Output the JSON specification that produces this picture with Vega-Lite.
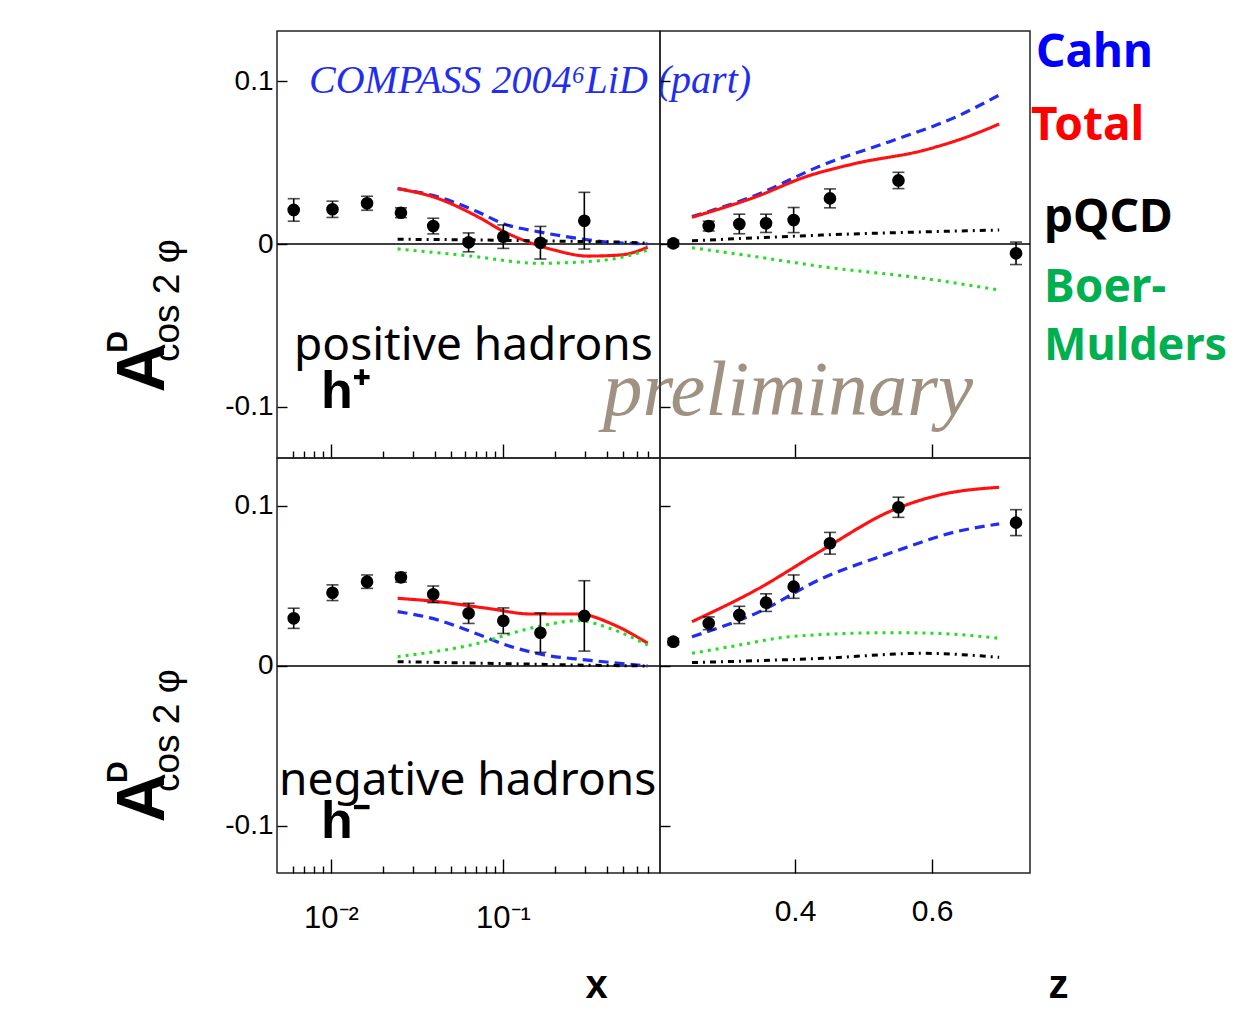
{
"$schema": "https://vega.github.io/schema/vega-lite/v6.json",
"autosize": {"type": "pad"},
"padding": {"left": 102, "top": 29, "right": 0, "bottom": 0},
"background": "white",
"spacing": 0,
"bounds": "flush",
"columns": 2,
"config": {
  "view": {"stroke": "#222", "strokeWidth": 1.5},
  "axis": {"grid": false, "domain": false, "tickColor": "black", "tickWidth": 1.4, "labelColor": "black", "labelFont": "Liberation Sans", "labelFontSize": 28, "titleColor": "black"}
},
"datasets": {
  "notes": [
    {"key":"compass","note":"COMPASS 2004⁶LiD (part)"},
    {"key":"pos","note":"positive hadrons"},
    {"key":"hp","note":"h⁺"},
    {"key":"prelim","note":"preliminary"},
    {"key":"A","note":"A"},
    {"key":"D","note":"D"},
    {"key":"cos","note":"cos 2 φ"},
    {"key":"neg","note":"negative hadrons"},
    {"key":"hm","note":"h⁻"},
    {"key":"Cahn","note":"Cahn"},
    {"key":"Total","note":"Total"},
    {"key":"pQCD","note":"pQCD"},
    {"key":"Boer","note":"Boer-"},
    {"key":"Mulders","note":"Mulders"}
  ],
  "pts": [
    {"panel":"TL","v":0.00607,"A":0.0209,"err":0.0069},
    {"panel":"TL","v":0.0102,"A":0.0213,"err":0.005},
    {"panel":"TL","v":0.0162,"A":0.025,"err":0.0043},
    {"panel":"TL","v":0.0255,"A":0.0192,"err":0.003},
    {"panel":"TL","v":0.0393,"A":0.011,"err":0.0048},
    {"panel":"TL","v":0.0631,"A":0.001,"err":0.0058},
    {"panel":"TL","v":0.1004,"A":0.0045,"err":0.0072},
    {"panel":"TL","v":0.165,"A":0.0008,"err":0.01},
    {"panel":"TL","v":0.297,"A":0.0143,"err":0.0174},
    {"panel":"TR","v":0.2223,"A":0.0004,"err":0.002},
    {"panel":"TR","v":0.274,"A":0.011,"err":0.003},
    {"panel":"TR","v":0.3187,"A":0.0123,"err":0.006},
    {"panel":"TR","v":0.3577,"A":0.0127,"err":0.0056},
    {"panel":"TR","v":0.398,"A":0.0147,"err":0.0077},
    {"panel":"TR","v":0.451,"A":0.028,"err":0.0058},
    {"panel":"TR","v":0.551,"A":0.039,"err":0.005},
    {"panel":"TR","v":0.7226,"A":-0.0057,"err":0.0069},
    {"panel":"BL","v":0.00607,"A":0.0298,"err":0.0063},
    {"panel":"BL","v":0.0102,"A":0.0458,"err":0.0049},
    {"panel":"BL","v":0.0162,"A":0.0527,"err":0.0042},
    {"panel":"BL","v":0.0255,"A":0.0554,"err":0.003},
    {"panel":"BL","v":0.0393,"A":0.0448,"err":0.0052},
    {"panel":"BL","v":0.0631,"A":0.0329,"err":0.0063},
    {"panel":"BL","v":0.1004,"A":0.0283,"err":0.008},
    {"panel":"BL","v":0.165,"A":0.0208,"err":0.0123},
    {"panel":"BL","v":0.297,"A":0.0313,"err":0.022},
    {"panel":"BR","v":0.2223,"A":0.0152,"err":0.002},
    {"panel":"BR","v":0.274,"A":0.0267,"err":0.004},
    {"panel":"BR","v":0.3187,"A":0.0319,"err":0.0054},
    {"panel":"BR","v":0.3577,"A":0.0396,"err":0.0055},
    {"panel":"BR","v":0.398,"A":0.0496,"err":0.0073},
    {"panel":"BR","v":0.451,"A":0.0767,"err":0.0068},
    {"panel":"BR","v":0.551,"A":0.0992,"err":0.0063},
    {"panel":"BR","v":0.7226,"A":0.0896,"err":0.0081}
  ],
  "curves": [
    {"panel":"TL","model":"Cahn","v":0.0244,"A":0.034},
    {"panel":"TL","model":"Cahn","v":0.0417,"A":0.029},
    {"panel":"TL","model":"Cahn","v":0.0711,"A":0.0198},
    {"panel":"TL","model":"Cahn","v":0.1014,"A":0.0123},
    {"panel":"TL","model":"Cahn","v":0.159,"A":0.0076},
    {"panel":"TL","model":"Cahn","v":0.248,"A":0.0041},
    {"panel":"TL","model":"Cahn","v":0.388,"A":0.0014},
    {"panel":"TL","model":"Cahn","v":0.694,"A":0.0},
    {"panel":"TL","model":"Total","v":0.0244,"A":0.034},
    {"panel":"TL","model":"Total","v":0.0417,"A":0.028},
    {"panel":"TL","model":"Total","v":0.0711,"A":0.0168},
    {"panel":"TL","model":"Total","v":0.1014,"A":0.0076},
    {"panel":"TL","model":"Total","v":0.139,"A":0.0014},
    {"panel":"TL","model":"Total","v":0.199,"A":-0.0037},
    {"panel":"TL","model":"Total","v":0.311,"A":-0.0074},
    {"panel":"TL","model":"Total","v":0.485,"A":-0.0067},
    {"panel":"TL","model":"Total","v":0.694,"A":-0.002},
    {"panel":"TL","model":"BM","v":0.0244,"A":-0.003},
    {"panel":"TL","model":"BM","v":0.0651,"A":-0.0074},
    {"panel":"TL","model":"BM","v":0.159,"A":-0.0118},
    {"panel":"TL","model":"BM","v":0.311,"A":-0.0108},
    {"panel":"TL","model":"BM","v":0.485,"A":-0.0082},
    {"panel":"TL","model":"BM","v":0.694,"A":-0.0037},
    {"panel":"TL","model":"pQCD","v":0.0244,"A":0.0029},
    {"panel":"TL","model":"pQCD","v":0.06,"A":0.0026},
    {"panel":"TL","model":"pQCD","v":0.15,"A":0.002},
    {"panel":"TL","model":"pQCD","v":0.3,"A":0.0015},
    {"panel":"TL","model":"pQCD","v":0.555,"A":0.001},
    {"panel":"TL","model":"pQCD","v":0.694,"A":0.0005},
    {"panel":"TR","model":"Cahn","v":0.2496,"A":0.0168},
    {"panel":"TR","model":"Cahn","v":0.343,"A":0.03},
    {"panel":"TR","model":"Cahn","v":0.44,"A":0.0485},
    {"panel":"TR","model":"Cahn","v":0.538,"A":0.0628},
    {"panel":"TR","model":"Cahn","v":0.635,"A":0.078},
    {"panel":"TR","model":"Cahn","v":0.698,"A":0.0914},
    {"panel":"TR","model":"Total","v":0.2496,"A":0.0164},
    {"panel":"TR","model":"Total","v":0.343,"A":0.029},
    {"panel":"TR","model":"Total","v":0.416,"A":0.0413},
    {"panel":"TR","model":"Total","v":0.489,"A":0.0495},
    {"panel":"TR","model":"Total","v":0.586,"A":0.0573},
    {"panel":"TR","model":"Total","v":0.645,"A":0.0648},
    {"panel":"TR","model":"Total","v":0.698,"A":0.0736},
    {"panel":"TR","model":"BM","v":0.2496,"A":-0.0023},
    {"panel":"TR","model":"BM","v":0.343,"A":-0.0078},
    {"panel":"TR","model":"BM","v":0.44,"A":-0.0139},
    {"panel":"TR","model":"BM","v":0.586,"A":-0.021},
    {"panel":"TR","model":"BM","v":0.698,"A":-0.0282},
    {"panel":"TR","model":"pQCD","v":0.2496,"A":0.002},
    {"panel":"TR","model":"pQCD","v":0.44,"A":0.0055},
    {"panel":"TR","model":"pQCD","v":0.698,"A":0.0086},
    {"panel":"BL","model":"Total","v":0.0244,"A":0.0423},
    {"panel":"BL","model":"Total","v":0.0417,"A":0.0402},
    {"panel":"BL","model":"Total","v":0.0815,"A":0.036},
    {"panel":"BL","model":"Total","v":0.1455,"A":0.0325},
    {"panel":"BL","model":"Total","v":0.272,"A":0.0325},
    {"panel":"BL","model":"Total","v":0.444,"A":0.0256},
    {"panel":"BL","model":"Total","v":0.694,"A":0.0142},
    {"panel":"BL","model":"Cahn","v":0.0244,"A":0.034},
    {"panel":"BL","model":"Cahn","v":0.0417,"A":0.0288},
    {"panel":"BL","model":"Cahn","v":0.0651,"A":0.0215},
    {"panel":"BL","model":"Cahn","v":0.1113,"A":0.0121},
    {"panel":"BL","model":"Cahn","v":0.174,"A":0.0069},
    {"panel":"BL","model":"Cahn","v":0.311,"A":0.0037},
    {"panel":"BL","model":"Cahn","v":0.694,"A":0.0},
    {"panel":"BL","model":"BM","v":0.0244,"A":0.0058},
    {"panel":"BL","model":"BM","v":0.0651,"A":0.0131},
    {"panel":"BL","model":"BM","v":0.159,"A":0.0246},
    {"panel":"BL","model":"BM","v":0.272,"A":0.0283},
    {"panel":"BL","model":"BM","v":0.444,"A":0.0225},
    {"panel":"BL","model":"BM","v":0.694,"A":0.0131},
    {"panel":"BL","model":"pQCD","v":0.0244,"A":0.0027},
    {"panel":"BL","model":"pQCD","v":0.1,"A":0.0015},
    {"panel":"BL","model":"pQCD","v":0.3,"A":0.0005},
    {"panel":"BL","model":"pQCD","v":0.694,"A":0.0},
    {"panel":"BR","model":"Total","v":0.2496,"A":0.0277},
    {"panel":"BR","model":"Total","v":0.343,"A":0.0475},
    {"panel":"BR","model":"Total","v":0.44,"A":0.0725},
    {"panel":"BR","model":"Total","v":0.538,"A":0.0965},
    {"panel":"BR","model":"Total","v":0.611,"A":0.1069},
    {"panel":"BR","model":"Total","v":0.698,"A":0.1117},
    {"panel":"BR","model":"Cahn","v":0.2496,"A":0.0183},
    {"panel":"BR","model":"Cahn","v":0.343,"A":0.0329},
    {"panel":"BR","model":"Cahn","v":0.44,"A":0.0548},
    {"panel":"BR","model":"Cahn","v":0.538,"A":0.0704},
    {"panel":"BR","model":"Cahn","v":0.635,"A":0.0839},
    {"panel":"BR","model":"Cahn","v":0.698,"A":0.0888},
    {"panel":"BR","model":"BM","v":0.2496,"A":0.0079},
    {"panel":"BR","model":"BM","v":0.319,"A":0.0131},
    {"panel":"BR","model":"BM","v":0.3917,"A":0.0183},
    {"panel":"BR","model":"BM","v":0.538,"A":0.0208},
    {"panel":"BR","model":"BM","v":0.6,"A":0.0205},
    {"panel":"BR","model":"BM","v":0.698,"A":0.0173},
    {"panel":"BR","model":"pQCD","v":0.2496,"A":0.0021},
    {"panel":"BR","model":"pQCD","v":0.44,"A":0.0048},
    {"panel":"BR","model":"pQCD","v":0.586,"A":0.0079},
    {"panel":"BR","model":"pQCD","v":0.698,"A":0.0054}
  ]
},
"resolve": {"scale": {"x": "independent", "y": "independent"}},
"concat": [
  {"width": 383, "height": 427,
   "layer": [
     {"data": {"name": "notes"}, "transform": [{"filter": "datum.key == 'A'"}],
      "mark": {"type": "rule", "color": "black", "strokeWidth": 1.6},
      "encoding": {"y": {"datum": 0, "type": "quantitative", "scale": {"domain": [-0.1313, 0.1307], "nice": false, "zero": false},
           "axis": {"title": null, "values": [-0.1, 0, 0.1], "tickSize": -10, "labelPadding": 14, "labelExpr": "datum.value == 0 ? '0' : (datum.value > 0 ? '0.1' : '-0.1')"}}}},
     {"data": {"name": "curves"}, "transform": [{"filter": "datum.panel == 'TL'"}],
      "mark": {"type": "line", "interpolate": "monotone"},
      "encoding": {
        "x": {"field": "v", "type": "quantitative", "scale": {"type": "log", "domain": [0.004853, 0.818], "nice": false},
              "axis": {"title": null, "values": [0.006,0.007,0.008,0.009,0.01,0.02,0.03,0.04,0.05,0.06,0.07,0.08,0.09,0.1,0.2,0.3,0.4,0.5,0.6,0.7], "labels": false,
                       "tickSize": {"condition": {"test": "datum.value == 0.01 || datum.value == 0.1", "value": -14}, "value": -7}}},
        "y": {"field": "A", "type": "quantitative", "scale": {"domain": [-0.1313, 0.1307], "nice": false, "zero": false},
              "axis": {"title": null, "values": [-0.1, 0, 0.1], "tickSize": -10, "labelPadding": 14, "labelExpr": "datum.value == 0 ? '0' : (datum.value > 0 ? '0.1' : '-0.1')"}},
        "color": {"field": "model", "type": "nominal", "scale": {"domain": ["Cahn","Total","BM","pQCD"], "range": ["#1f2ef0","#ff1111","#22dd22","#000000"]}, "legend": null},
        "strokeDash": {"field": "model", "type": "nominal", "scale": {"domain": ["Cahn","Total","BM","pQCD"], "range": [[10,6],[1,0],[3,5],[6,5,2,5]]}, "legend": null},
        "size": {"field": "model", "type": "nominal", "scale": {"domain": ["Cahn","Total","BM","pQCD"], "range": [3.2,3,3,4.5]}, "legend": null}
      }},
     {"data": {"name": "pts"}, "transform": [{"filter": "datum.panel == 'TL'"}],
      "mark": {"type": "errorbar", "ticks": {"size": 12, "thickness": 1.6, "color": "black"}, "rule": {"strokeWidth": 1.6, "color": "black"}},
      "encoding": {
        "x": {"field": "v", "type": "quantitative", "title": null},
        "y": {"field": "A", "type": "quantitative", "title": null},
        "yError": {"field": "err"}}},
     {"data": {"name": "pts"}, "transform": [{"filter": "datum.panel == 'TL'"}],
      "mark": {"type": "circle", "size": 160, "color": "black", "opacity": 1},
      "encoding": {
        "x": {"field": "v", "type": "quantitative", "title": null},
        "y": {"field": "A", "type": "quantitative", "title": null}}},
     {"data": {"name": "notes"}, "transform": [{"filter": "datum.key == 'compass'"}],
      "mark": {"type": "text", "font": "Liberation Serif", "fontStyle": "italic", "fontSize": 40, "color": "#1f2ef0", "align": "left", "baseline": "alphabetic"},
      "encoding": {"text": {"field": "note"}, "x": {"datum": 0.00745, "type": "quantitative"}, "y": {"datum": 0.0926, "type": "quantitative"}}},
     {"data": {"name": "notes"}, "transform": [{"filter": "datum.key == 'pos'"}],
      "mark": {"type": "text", "font": "Noto Sans", "fontSize": 46, "color": "black", "align": "left", "baseline": "alphabetic"},
      "encoding": {"text": {"field": "note"}, "x": {"datum": 0.0061, "type": "quantitative"}, "y": {"datum": -0.0712, "type": "quantitative"}}},
     {"data": {"name": "notes"}, "transform": [{"filter": "datum.key == 'hp'"}],
      "mark": {"type": "text", "font": "Liberation Sans", "fontWeight": "bold", "fontSize": 52, "color": "black", "align": "left", "baseline": "alphabetic"},
      "encoding": {"text": {"field": "note"}, "x": {"datum": 0.00875, "type": "quantitative"}, "y": {"datum": -0.1006, "type": "quantitative"}}},
     {"data": {"name": "notes"}, "transform": [{"filter": "datum.key == 'prelim'"}],
      "mark": {"type": "text", "font": "Liberation Serif", "fontStyle": "italic", "fontSize": 79, "color": "#a09282", "align": "left", "baseline": "alphabetic"},
      "encoding": {"text": {"field": "note"}, "x": {"datum": 0.381, "type": "quantitative"}, "y": {"datum": -0.1049, "type": "quantitative"}}},
     {"data": {"name": "notes"}, "transform": [{"filter": "datum.key == 'A'"}],
      "mark": {"type": "text", "font": "Liberation Sans", "fontWeight": "bold", "fontSize": 68, "color": "black", "angle": 270, "align": "center", "baseline": "middle"},
      "encoding": {"text": {"field": "note"}, "x": {"datum": 0.000818, "type": "quantitative"}, "y": {"datum": -0.0761, "type": "quantitative"}}},
     {"data": {"name": "notes"}, "transform": [{"filter": "datum.key == 'D'"}],
      "mark": {"type": "text", "font": "Liberation Sans", "fontWeight": "bold", "fontSize": 30, "color": "black", "angle": 270, "align": "center", "baseline": "middle"},
      "encoding": {"text": {"field": "note"}, "x": {"datum": 0.000578, "type": "quantitative"}, "y": {"datum": -0.0601, "type": "quantitative"}}},
     {"data": {"name": "notes"}, "transform": [{"filter": "datum.key == 'cos'"}],
      "mark": {"type": "text", "font": "Liberation Sans", "fontSize": 37, "color": "black", "angle": 270, "align": "left", "baseline": "middle"},
      "encoding": {"text": {"field": "note"}, "x": {"datum": 0.001127, "type": "quantitative"}, "y": {"datum": -0.0724, "type": "quantitative"}}}
   ]},
  {"width": 370, "height": 427,
   "layer": [
     {"data": {"name": "notes"}, "transform": [{"filter": "datum.key == 'A'"}],
      "mark": {"type": "rule", "color": "black", "strokeWidth": 1.6},
      "encoding": {"y": {"datum": 0, "type": "quantitative", "scale": {"domain": [-0.1313, 0.1307], "nice": false, "zero": false},
           "axis": {"title": null, "values": [-0.1, 0, 0.1], "tickSize": -10, "labels": false}}}},
     {"data": {"name": "curves"}, "transform": [{"filter": "datum.panel == 'TR'"}],
      "mark": {"type": "line", "interpolate": "monotone"},
      "encoding": {
        "x": {"field": "v", "type": "quantitative", "scale": {"domain": [0.2029, 0.743], "nice": false, "zero": false},
              "axis": {"title": null, "values": [0.4, 0.6], "labels": false, "tickSize": -14}},
        "y": {"field": "A", "type": "quantitative", "scale": {"domain": [-0.1313, 0.1307], "nice": false, "zero": false},
              "axis": {"title": null, "values": [-0.1, 0, 0.1], "tickSize": -10, "labels": false}},
        "color": {"field": "model", "type": "nominal", "scale": {"domain": ["Cahn","Total","BM","pQCD"], "range": ["#1f2ef0","#ff1111","#22dd22","#000000"]}, "legend": null},
        "strokeDash": {"field": "model", "type": "nominal", "scale": {"domain": ["Cahn","Total","BM","pQCD"], "range": [[10,6],[1,0],[3,5],[6,5,2,5]]}, "legend": null},
        "size": {"field": "model", "type": "nominal", "scale": {"domain": ["Cahn","Total","BM","pQCD"], "range": [3.2,3,3,4.5]}, "legend": null}
      }},
     {"data": {"name": "pts"}, "transform": [{"filter": "datum.panel == 'TR'"}],
      "mark": {"type": "errorbar", "ticks": {"size": 12, "thickness": 1.6, "color": "black"}, "rule": {"strokeWidth": 1.6, "color": "black"}},
      "encoding": {
        "x": {"field": "v", "type": "quantitative", "title": null},
        "y": {"field": "A", "type": "quantitative", "title": null},
        "yError": {"field": "err"}}},
     {"data": {"name": "pts"}, "transform": [{"filter": "datum.panel == 'TR'"}],
      "mark": {"type": "circle", "size": 160, "color": "black", "opacity": 1},
      "encoding": {
        "x": {"field": "v", "type": "quantitative", "title": null},
        "y": {"field": "A", "type": "quantitative", "title": null}}},
     {"data": {"name": "notes"}, "transform": [{"filter": "datum.key == 'Cahn'"}],
      "mark": {"type": "text", "font": "Noto Sans", "fontWeight": "bold", "fontSize": 46, "color": "#0000ff", "align": "left", "baseline": "alphabetic"},
      "encoding": {"text": {"field": "note"}, "x": {"datum": 0.7518, "type": "quantitative"}, "y": {"datum": 0.1086, "type": "quantitative"}}},
     {"data": {"name": "notes"}, "transform": [{"filter": "datum.key == 'Total'"}],
      "mark": {"type": "text", "font": "Noto Sans", "fontWeight": "bold", "fontSize": 46, "color": "#ff0000", "align": "left", "baseline": "alphabetic"},
      "encoding": {"text": {"field": "note"}, "x": {"datum": 0.7445, "type": "quantitative"}, "y": {"datum": 0.0638, "type": "quantitative"}}},
     {"data": {"name": "notes"}, "transform": [{"filter": "datum.key == 'pQCD'"}],
      "mark": {"type": "text", "font": "Noto Sans", "fontWeight": "bold", "fontSize": 46, "color": "#000000", "align": "left", "baseline": "alphabetic"},
      "encoding": {"text": {"field": "note"}, "x": {"datum": 0.7635, "type": "quantitative"}, "y": {"datum": 0.0074, "type": "quantitative"}}},
     {"data": {"name": "notes"}, "transform": [{"filter": "datum.key == 'Boer'"}],
      "mark": {"type": "text", "font": "Noto Sans", "fontWeight": "bold", "fontSize": 46, "color": "#00b050", "align": "left", "baseline": "alphabetic"},
      "encoding": {"text": {"field": "note"}, "x": {"datum": 0.7635, "type": "quantitative"}, "y": {"datum": -0.0356, "type": "quantitative"}}},
     {"data": {"name": "notes"}, "transform": [{"filter": "datum.key == 'Mulders'"}],
      "mark": {"type": "text", "font": "Noto Sans", "fontWeight": "bold", "fontSize": 45, "color": "#00b050", "align": "left", "baseline": "alphabetic"},
      "encoding": {"text": {"field": "note"}, "x": {"datum": 0.7635, "type": "quantitative"}, "y": {"datum": -0.0712, "type": "quantitative"}}}
   ]},
  {"width": 383, "height": 415,
   "layer": [
     {"data": {"name": "notes"}, "transform": [{"filter": "datum.key == 'A'"}],
      "mark": {"type": "rule", "color": "black", "strokeWidth": 1.6},
      "encoding": {"y": {"datum": 0, "type": "quantitative", "scale": {"domain": [-0.1294, 0.13], "nice": false, "zero": false},
           "axis": {"title": null, "values": [-0.1, 0, 0.1], "tickSize": -10, "labelPadding": 14, "labelExpr": "datum.value == 0 ? '0' : (datum.value > 0 ? '0.1' : '-0.1')"}}}},
     {"data": {"name": "curves"}, "transform": [{"filter": "datum.panel == 'BL'"}],
      "mark": {"type": "line", "interpolate": "monotone"},
      "encoding": {
        "x": {"field": "v", "type": "quantitative", "scale": {"type": "log", "domain": [0.004853, 0.818], "nice": false},
              "axis": {"title": "x", "titleFont": "Liberation Sans", "titleFontWeight": "bold", "titleFontSize": 40, "titleX": 319, "titleY": 112, "titleBaseline": "middle", "titleAlign": "center",
                       "values": [0.006,0.007,0.008,0.009,0.01,0.02,0.03,0.04,0.05,0.06,0.07,0.08,0.09,0.1,0.2,0.3,0.4,0.5,0.6,0.7], "labelPadding": 44, "labelFontSize": 31,
                       "labelExpr": "datum.value == 0.01 ? '10⁻²' : (datum.value == 0.1 ? '10⁻¹' : '')",
                       "tickSize": {"condition": {"test": "datum.value == 0.01 || datum.value == 0.1", "value": -14}, "value": -7}}},
        "y": {"field": "A", "type": "quantitative", "scale": {"domain": [-0.1294, 0.13], "nice": false, "zero": false},
              "axis": {"title": null, "values": [-0.1, 0, 0.1], "tickSize": -10, "labelPadding": 14, "labelExpr": "datum.value == 0 ? '0' : (datum.value > 0 ? '0.1' : '-0.1')"}},
        "color": {"field": "model", "type": "nominal", "scale": {"domain": ["Cahn","Total","BM","pQCD"], "range": ["#1f2ef0","#ff1111","#22dd22","#000000"]}, "legend": null},
        "strokeDash": {"field": "model", "type": "nominal", "scale": {"domain": ["Cahn","Total","BM","pQCD"], "range": [[10,6],[1,0],[3,5],[6,5,2,5]]}, "legend": null},
        "size": {"field": "model", "type": "nominal", "scale": {"domain": ["Cahn","Total","BM","pQCD"], "range": [3.2,3,3,4.5]}, "legend": null}
      }},
     {"data": {"name": "pts"}, "transform": [{"filter": "datum.panel == 'BL'"}],
      "mark": {"type": "errorbar", "ticks": {"size": 12, "thickness": 1.6, "color": "black"}, "rule": {"strokeWidth": 1.6, "color": "black"}},
      "encoding": {
        "x": {"field": "v", "type": "quantitative", "title": "x"},
        "y": {"field": "A", "type": "quantitative", "title": null},
        "yError": {"field": "err"}}},
     {"data": {"name": "pts"}, "transform": [{"filter": "datum.panel == 'BL'"}],
      "mark": {"type": "circle", "size": 160, "color": "black", "opacity": 1},
      "encoding": {
        "x": {"field": "v", "type": "quantitative", "title": "x"},
        "y": {"field": "A", "type": "quantitative", "title": null}}},
     {"data": {"name": "notes"}, "transform": [{"filter": "datum.key == 'neg'"}],
      "mark": {"type": "text", "font": "Noto Sans", "fontSize": 46, "color": "black", "align": "left", "baseline": "alphabetic"},
      "encoding": {"text": {"field": "note"}, "x": {"datum": 0.00499, "type": "quantitative"}, "y": {"datum": -0.0806, "type": "quantitative"}}},
     {"data": {"name": "notes"}, "transform": [{"filter": "datum.key == 'hm'"}],
      "mark": {"type": "text", "font": "Liberation Sans", "fontWeight": "bold", "fontSize": 52, "color": "black", "align": "left", "baseline": "alphabetic"},
      "encoding": {"text": {"field": "note"}, "x": {"datum": 0.00875, "type": "quantitative"}, "y": {"datum": -0.1075, "type": "quantitative"}}},
     {"data": {"name": "notes"}, "transform": [{"filter": "datum.key == 'A'"}],
      "mark": {"type": "text", "font": "Liberation Sans", "fontWeight": "bold", "fontSize": 68, "color": "black", "angle": 270, "align": "center", "baseline": "middle"},
      "encoding": {"text": {"field": "note"}, "x": {"datum": 0.000818, "type": "quantitative"}, "y": {"datum": -0.0825, "type": "quantitative"}}},
     {"data": {"name": "notes"}, "transform": [{"filter": "datum.key == 'D'"}],
      "mark": {"type": "text", "font": "Liberation Sans", "fontWeight": "bold", "fontSize": 30, "color": "black", "angle": 270, "align": "center", "baseline": "middle"},
      "encoding": {"text": {"field": "note"}, "x": {"datum": 0.000578, "type": "quantitative"}, "y": {"datum": -0.0663, "type": "quantitative"}}},
     {"data": {"name": "notes"}, "transform": [{"filter": "datum.key == 'cos'"}],
      "mark": {"type": "text", "font": "Liberation Sans", "fontSize": 37, "color": "black", "angle": 270, "align": "left", "baseline": "middle"},
      "encoding": {"text": {"field": "note"}, "x": {"datum": 0.001127, "type": "quantitative"}, "y": {"datum": -0.0788, "type": "quantitative"}}}
   ]},
  {"width": 370, "height": 415,
   "layer": [
     {"data": {"name": "notes"}, "transform": [{"filter": "datum.key == 'A'"}],
      "mark": {"type": "rule", "color": "black", "strokeWidth": 1.6},
      "encoding": {"y": {"datum": 0, "type": "quantitative", "scale": {"domain": [-0.1294, 0.13], "nice": false, "zero": false},
           "axis": {"title": null, "values": [-0.1, 0, 0.1], "tickSize": -10, "labels": false}}}},
     {"data": {"name": "curves"}, "transform": [{"filter": "datum.panel == 'BR'"}],
      "mark": {"type": "line", "interpolate": "monotone"},
      "encoding": {
        "x": {"field": "v", "type": "quantitative", "scale": {"domain": [0.2029, 0.743], "nice": false, "zero": false},
              "axis": {"title": "z", "titleFont": "Liberation Sans", "titleFontWeight": "bold", "titleFontSize": 40, "titleX": 398, "titleY": 112, "titleBaseline": "middle", "titleAlign": "center",
                       "values": [0.4, 0.6], "format": ".1f", "labelPadding": 37, "labelFontSize": 30, "tickSize": -14}},
        "y": {"field": "A", "type": "quantitative", "scale": {"domain": [-0.1294, 0.13], "nice": false, "zero": false},
              "axis": {"title": null, "values": [-0.1, 0, 0.1], "tickSize": -10, "labels": false}},
        "color": {"field": "model", "type": "nominal", "scale": {"domain": ["Cahn","Total","BM","pQCD"], "range": ["#1f2ef0","#ff1111","#22dd22","#000000"]}, "legend": null},
        "strokeDash": {"field": "model", "type": "nominal", "scale": {"domain": ["Cahn","Total","BM","pQCD"], "range": [[10,6],[1,0],[3,5],[6,5,2,5]]}, "legend": null},
        "size": {"field": "model", "type": "nominal", "scale": {"domain": ["Cahn","Total","BM","pQCD"], "range": [3.2,3,3,4.5]}, "legend": null}
      }},
     {"data": {"name": "pts"}, "transform": [{"filter": "datum.panel == 'BR'"}],
      "mark": {"type": "errorbar", "ticks": {"size": 12, "thickness": 1.6, "color": "black"}, "rule": {"strokeWidth": 1.6, "color": "black"}},
      "encoding": {
        "x": {"field": "v", "type": "quantitative", "title": "z"},
        "y": {"field": "A", "type": "quantitative", "title": null},
        "yError": {"field": "err"}}},
     {"data": {"name": "pts"}, "transform": [{"filter": "datum.panel == 'BR'"}],
      "mark": {"type": "circle", "size": 160, "color": "black", "opacity": 1},
      "encoding": {
        "x": {"field": "v", "type": "quantitative", "title": "z"},
        "y": {"field": "A", "type": "quantitative", "title": null}}}
   ]}
]
}
